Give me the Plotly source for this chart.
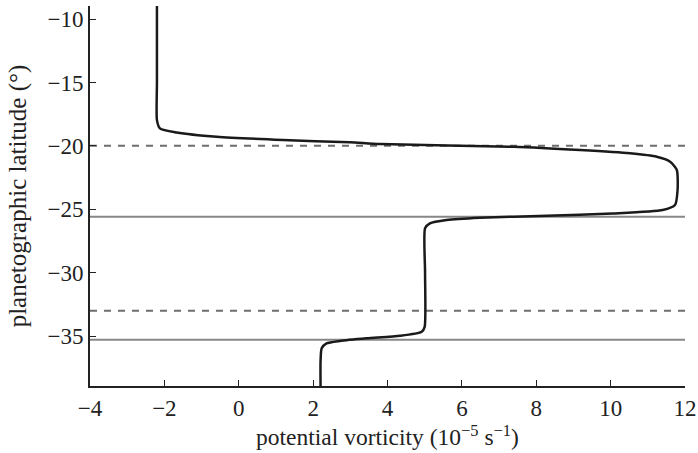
import plotly.graph_objects as go

# Potential vorticity profile (10^-5 s^-1) vs latitude (deg)
pv = [-2.20, -2.20, -2.20, -2.12, -1.67, -0.59, 1.19, 2.99, 3.80, 7.38, 9.18, 10.52,
      11.24, 11.60, 11.78, 11.80, 11.73, 11.40, 10.06, 8.28, 6.49, 5.59, 5.14, 5.01,
      5.01, 5.00, 4.92, 4.34, 3.44, 2.72, 2.36, 2.23, 2.20, 2.20]
lat = [-8.97, -15.0, -17.97, -18.62, -18.94, -19.28, -19.54, -19.72, -19.86, -20.07, -20.33, -20.59,
       -20.86, -21.25, -21.90, -23.5, -24.67, -25.06, -25.33, -25.51, -25.67, -25.85, -26.11, -26.50,
       -30.0, -34.27, -34.66, -34.98, -35.18, -35.39, -35.58, -35.97, -37.0, -38.94]

dashed_lats = [-20.0, -33.0]
solid_lats = [-25.6, -35.3]

x_ticks = [-4, -2, 0, 2, 4, 6, 8, 10, 12]
y_ticks = [-10, -15, -20, -25, -30, -35]
x_range = [-4, 12]
y_range = [-38.94, -8.97]

fig = go.Figure()
for yl in dashed_lats:
    fig.add_trace(go.Scatter(x=x_range, y=[yl, yl], mode="lines",
                             line=dict(color="#6e6e6e", width=2, dash="7px,7px"),
                             hoverinfo="skip", showlegend=False))
for yl in solid_lats:
    fig.add_trace(go.Scatter(x=x_range, y=[yl, yl], mode="lines",
                             line=dict(color="#878787", width=2),
                             hoverinfo="skip", showlegend=False))
fig.add_trace(go.Scatter(x=pv, y=lat, mode="lines",
                         line=dict(color="#1a1a1a", width=2.5, shape="spline", smoothing=0.6),
                         showlegend=False))

font_family = "Liberation Serif, Times New Roman, serif"
fig.update_layout(
    width=698, height=453,
    margin=dict(l=90, r=13, t=6, b=67),
    plot_bgcolor="white", paper_bgcolor="white",
    font=dict(family=font_family, size=23, color="#222"),
    xaxis=dict(range=x_range, tickvals=x_ticks, ticks="inside", ticklen=6, tickwidth=1.2,
               tickcolor="#222", showline=True, linecolor="#222", linewidth=2,
               showgrid=False, zeroline=False, automargin=False, ticklabeloverflow="allow",
               title=dict(text="potential vorticity (10<sup>−5</sup> s<sup>−1</sup>)",
                          font=dict(size=23.5), standoff=4)),
    yaxis=dict(range=y_range, tickvals=y_ticks, ticks="inside", ticklen=6, tickwidth=1.2,
               tickcolor="#222", showline=True, linecolor="#222", linewidth=2,
               showgrid=False, zeroline=False, automargin=False, ticklabeloverflow="allow",
               title=dict(text="planetographic latitude (°)", font=dict(size=25), standoff=14)),
)
fig.write_html("out.html",
               config={"displayModeBar": False},
               post_script="document.body.style.margin='0px';document.body.style.overflow='hidden';")
